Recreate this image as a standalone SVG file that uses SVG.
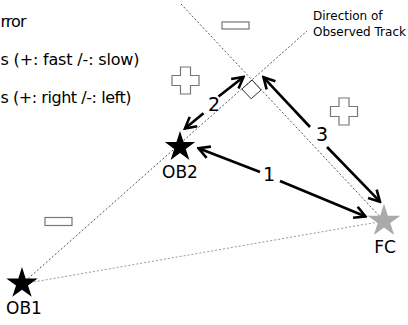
<svg xmlns="http://www.w3.org/2000/svg" width="408" height="325" viewBox="0 0 408 325">
  <style>
    text { font-family: "DejaVu Sans", "Liberation Sans", sans-serif; fill: #000; }
    .legend { font-size: 16px; }
    .note { font-size: 12px; }
    .name { font-size: 17px; text-anchor: middle; }
    .num { font-size: 19px; text-anchor: middle; }
    .guide { fill: none; stroke: #555; stroke-width: 1; stroke-dasharray: 2 2; }
    .guide-light { fill: none; stroke: #999; stroke-width: 1; stroke-dasharray: 2 2; }
    .sign { fill: #fff; stroke: #777; stroke-width: 1.2; }
    .arrow { fill: none; stroke: #000; stroke-width: 2.6; marker-end: url(#head); }
  </style>
  <defs>
    <marker id="head" markerUnits="userSpaceOnUse" viewBox="-14 -8 16 16" refX="0" refY="0" markerWidth="16" markerHeight="16" orient="auto">
      <path d="M-11,-6 L0,0 L-11,6" fill="none" stroke="#000" stroke-width="2.6" stroke-linejoin="miter"/>
    </marker>
    <path id="star" d="M0,-16 L3.59,-4.94 L15.22,-4.94 L5.81,1.89 L9.40,12.94 L0,6.11 L-9.40,12.94 L-5.81,1.89 L-15.22,-4.94 L-3.59,-4.94 Z"/>
    <path id="plus" d="M-5,-13.5 H5 V-5 H13.5 V5 H5 V13.5 H-5 V5 H-13.5 V-5 H-5 Z"/>
  </defs>

  <!-- legend lines -->
  <g id="legend">
    <text class="legend" x="0.5" y="27" textLength="26" lengthAdjust="spacing">rror</text>
    <text class="legend" x="0.5" y="65" textLength="139" lengthAdjust="spacing">s (+: fast /-: slow)</text>
    <text class="legend" x="0.5" y="103" textLength="131" lengthAdjust="spacing">s (+: right /-: left)</text>
  </g>

  <!-- guide lines -->
  <g id="guides">
    <line class="guide" x1="181" y1="4" x2="384" y2="221"/>
    <line class="guide" x1="22" y1="284" x2="307" y2="31"/>
    <line class="guide-light" x1="22" y1="284" x2="384" y2="221"/>
    <path d="M252,80 L261.2,89.9 L251.1,98.8 L241.9,89 Z" fill="none" stroke="#333" stroke-width="1"/>
  </g>

  <g id="track-label">
    <text class="note" x="313" y="20">Direction of</text>
    <text class="note" x="313" y="36">Observed Track</text>
  </g>

  <!-- sign markers -->
  <g id="signs">
    <rect class="sign" x="222" y="22" width="27" height="7"/>
    <rect class="sign" x="45" y="217.5" width="27" height="8"/>
    <use href="#plus" class="sign" transform="translate(185.5,80.5)"/>
    <use href="#plus" class="sign" transform="translate(344,111.5)"/>
  </g>

  <!-- connectors -->
  <g id="connectors">
    <line class="arrow" x1="260" y1="172" x2="198.5" y2="148.3"/>
    <line class="arrow" x1="280" y1="181" x2="365.5" y2="216.5"/>
    <line class="arrow" x1="203.5" y1="113.3" x2="185" y2="128.5"/>
    <line class="arrow" x1="218.5" y1="96.5" x2="243.5" y2="77"/>
    <line class="arrow" x1="310" y1="127" x2="263.5" y2="77.3"/>
    <line class="arrow" x1="327" y1="147" x2="380" y2="201.7"/>
    <text class="num" x="269" y="181">1</text>
    <text class="num" x="214" y="111">2</text>
    <text class="num" x="322" y="141">3</text>
  </g>

  <!-- observers and target -->
  <g id="OB1">
    <use href="#star" fill="#000" transform="translate(22,283.5) scale(1.03)"/>
    <text class="name" x="24" y="314">OB1</text>
  </g>
  <g id="OB2">
    <use href="#star" fill="#000" transform="translate(180,147)"/>
    <text class="name" x="180" y="178">OB2</text>
  </g>
  <g id="FC">
    <use href="#star" fill="#aaa" transform="translate(384,221) scale(1.08)"/>
    <text class="name" x="385" y="253">FC</text>
  </g>
</svg>
